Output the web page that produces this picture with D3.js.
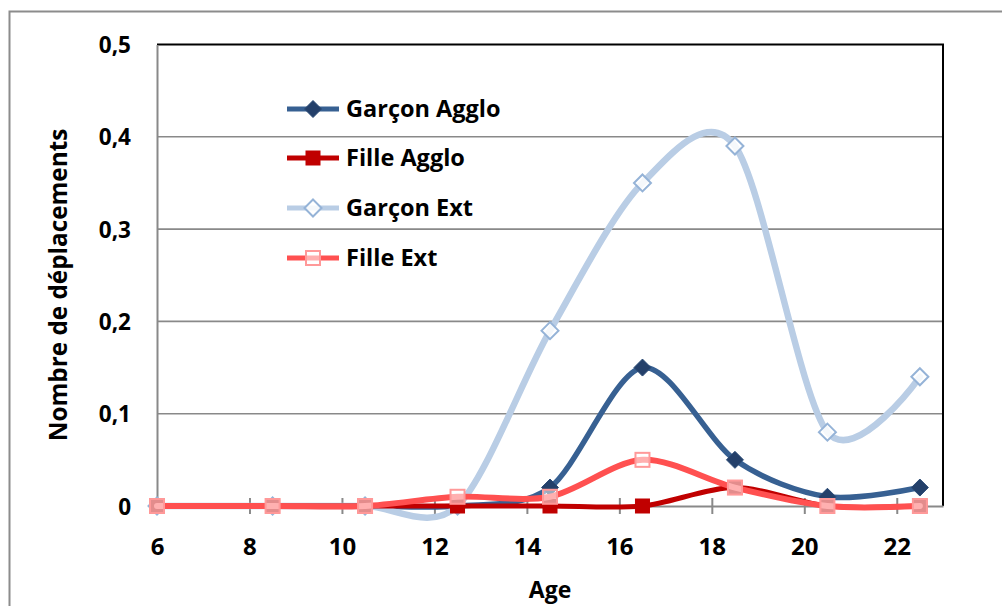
<!DOCTYPE html>
<html><head><meta charset="utf-8">
<script src="https://cdn.jsdelivr.net/npm/d3@7"></script>
<style>
body{margin:0;background:#fff}
text{font-family:"Open Sans",Lato,sans-serif;font-weight:bold;fill:#000}
</style>
</head><body>
<svg id="c" width="1002" height="606"></svg>
<script>
const ages=[6,8.5,10.5,12.5,14.5,16.5,18.5,20.5,22.5];
const garconAgglo=[0,0,0,0,0.02,0.15,0.05,0.01,0.02];
const filleAgglo=[0,0,0,0,0,0,0.02,0,0];
const garconExt=[0,0,0,0,0.19,0.35,0.39,0.08,0.14];
const filleExt=[0,0,0,0.01,0.01,0.05,0.02,0,0];
const seriesNames=["Garçon Agglo","Fille Agglo","Garçon Ext","Fille Ext"];
const xTicks=[6,8,10,12,14,16,18,20,22];
const yTicks=[0,0.1,0.2,0.3,0.4,0.5];
const xTitle="Age";
const yTitle="Nombre de déplacements";

const styles=[
 {line:"#376092",w:5.5,shape:"diamond",size:17,fill:"#24406a",stroke:"#2a4a75",sw:1},
 {line:"#C00000",w:5,shape:"square",size:14,fill:"#C00000",stroke:"#C00000",sw:1},
 {line:"#B9CDE5",w:6.5,shape:"diamond",size:17,fill:"rgba(255,255,255,0.85)",stroke:"#95B3D7",sw:2},
 {line:"#FF5050",w:6,shape:"square",size:14,fill:"rgba(255,255,255,0.55)",stroke:"#FF9999",sw:2}
];
const data=[garconAgglo,filleAgglo,garconExt,filleExt];
const drawOrder=[0,2,1,3];

const svg=d3.select("#c");
const L=157,R=943,T=44.5,B=506;
const x=d3.scaleLinear().domain([6,23]).range([L,R]);
const y=d3.scaleLinear().domain([0,0.5]).range([B,T]);

// outer border
svg.append("rect").attr("x",9.5).attr("y",11.5).attr("width",1100).attr("height",700)
 .attr("fill","none").attr("stroke","#8c8c8c").attr("stroke-width",2);

// gridlines
svg.append("g").selectAll("line").data(yTicks.filter(d=>d>0&&d<0.5)).join("line")
 .attr("x1",L).attr("x2",R).attr("y1",d=>y(d)).attr("y2",d=>y(d))
 .attr("stroke","#898989").attr("stroke-width",1.6);

// plot border top/right
svg.append("path").attr("d",`M${L},${T}H${R}V${B}`).attr("fill","none")
 .attr("stroke","#000").attr("stroke-width",2);

// axes
const fmt=d=>d===0?"0":d3.format(".1f")(d).replace(".",",");
const yAxis=svg.append("g").attr("transform",`translate(${L},0)`)
 .call(d3.axisLeft(y).tickValues(yTicks).tickFormat(fmt).tickSize(0).tickPadding(26));
yAxis.select(".domain").attr("stroke","#898989").attr("stroke-width",2);
yAxis.selectAll("text").attr("font-size",22.5).attr("font-family","Open Sans").attr("font-weight","bold").attr("dy","0.36em");

const xAxis=svg.append("g").attr("transform",`translate(0,${B})`)
 .call(d3.axisBottom(x).tickValues(xTicks).tickFormat(d3.format("d")).tickSizeInner(8).tickSizeOuter(0).tickPadding(24));
xAxis.select(".domain").attr("stroke","#898989").attr("stroke-width",2);
xAxis.selectAll(".tick line").attr("y1",-8).attr("stroke","#898989").attr("stroke-width",2);
xAxis.selectAll("text").attr("font-size",24).attr("font-family","Open Sans").attr("font-weight","bold");

// titles
svg.append("text").attr("x",550).attr("y",598).attr("text-anchor","middle").attr("font-size",23).text(xTitle);
svg.append("text").attr("transform","translate(67,285) rotate(-90)").attr("text-anchor","middle").attr("font-size",24.3).text(yTitle);

// series
const line=d3.line().x(d=>x(d[0])).y(d=>y(d[1])).curve(d3.curveCardinal.tension(0.1));
function marker(g,st,cx,cy){
 const s=st.size;
 if(st.shape==="diamond"){
  const h=s/2;
  g.append("path").attr("d",`M${cx},${cy-h}L${cx+h},${cy}L${cx},${cy+h}L${cx-h},${cy}Z`)
   .attr("fill",st.fill).attr("stroke",st.stroke).attr("stroke-width",st.sw);
 } else {
  g.append("rect").attr("x",cx-s/2).attr("y",cy-s/2).attr("width",s).attr("height",s)
   .attr("fill",st.fill).attr("stroke",st.stroke).attr("stroke-width",st.sw);
 }
}
drawOrder.forEach(i=>{
 const vals=data[i];
 const st=styles[i];
 const pts=ages.map((a,j)=>[a,vals[j]]);
 const g=svg.append("g");
 g.append("path").attr("d",line(pts)).attr("fill","none").attr("stroke",st.line)
  .attr("stroke-width",st.w).attr("stroke-linejoin","round").attr("stroke-linecap","round");
 pts.forEach(p=>marker(g,st,x(p[0]),y(p[1])));
});

// legend
const legY=[109,158,208,258];
seriesNames.forEach((n,i)=>{
 const st=styles[i];
 const cy=legY[i];
 const g=svg.append("g");
 g.append("line").attr("x1",287).attr("x2",339).attr("y1",cy).attr("y2",cy)
  .attr("stroke",st.line).attr("stroke-width",Math.min(st.w,5));
 marker(g,st,313,cy);
 g.append("text").attr("x",346).attr("y",cy+8).attr("font-size",23.5).text(n);
});
</script>
</body></html>
